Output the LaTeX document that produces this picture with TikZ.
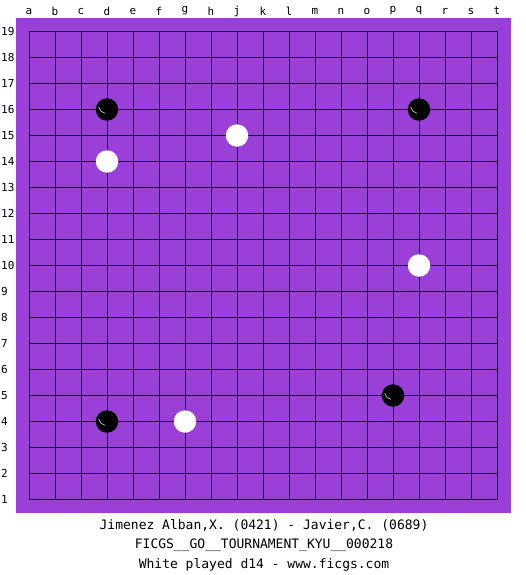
\documentclass[tikz,border=0pt]{standalone}
\usepackage{fontspec}
\setmonofont{DejaVu Sans Mono}
\definecolor{board}{RGB}{154,64,217}
\definecolor{gridc}{RGB}{0,0,0}
\begin{document}
\begin{tikzpicture}[x=1pt,y=-1pt,
  lab/.style={font=\ttfamily\fontsize{11}{12}\selectfont, inner sep=0pt},
  captext/.style={font=\ttfamily\fontsize{13}{14}\selectfont, inner sep=0pt},
  bstone/.style={circle, fill=black, minimum size=22.5pt, inner sep=0pt},
  wstone/.style={circle, fill=white, minimum size=22.5pt, inner sep=0pt}]
\useasboundingbox (0,0) rectangle (525,575);
\fill[white] (0,0) rectangle (525,575);
\fill[board] (16,18) rectangle (511,513);
\foreach \i in {0,...,18} {
  \draw[gridc, line width=0.9pt] ({29+26*\i},31.5) -- ({29+26*\i},499.5);
  \draw[gridc, line width=0.9pt] (29,{31.5+26*\i}) -- (497,{31.5+26*\i});
}
\foreach \l [count=\i from 0] in {a,b,c,d,e,f,g,h,j,k,l,m,n,o,p,q,r,s,t} {
  \node[lab] (col\l) at ({29+26*\i},11) {\l};
}
\foreach \r in {1,...,19} {
  \node[lab, anchor=west] (row\r) at (1,{499.5-26*(\r-1)}) {\r};
}
% stones: x = 29+26*col, y = 499.5-26*(row-1)
\node[bstone] (d16) at (107,109.5) {};
\node[bstone] (q16) at (419,109.5) {};
\node[bstone] (p5) at (393,395.5) {};
\node[bstone] (d4) at (107,421.5) {};
\node[wstone] (j15) at (237,135.5) {};
\node[wstone] (d14) at (107,161.5) {};
\node[wstone] (q10) at (419,265.5) {};
\node[wstone] (g4) at (185,421.5) {};
\foreach \s in {d16,q16,p5,d4} {
  \draw[gray!60, line width=0.8pt, line cap=round] ([shift={({8.5*cos(195)},{8.5*sin(195)})}]\s.center) arc[start angle=195, end angle=255, radius=8.5pt];
}
\node[captext] (t1) at (264,525) {Jimenez Alban,X. (0421) - Javier,C. (0689)};
\node[captext] (t2) at (264,545) {FICGS\_\_GO\_\_TOURNAMENT\_KYU\_\_000218};
\node[captext] (t3) at (264,565) {White played d14 - www.ficgs.com};
\end{tikzpicture}
\end{document}
